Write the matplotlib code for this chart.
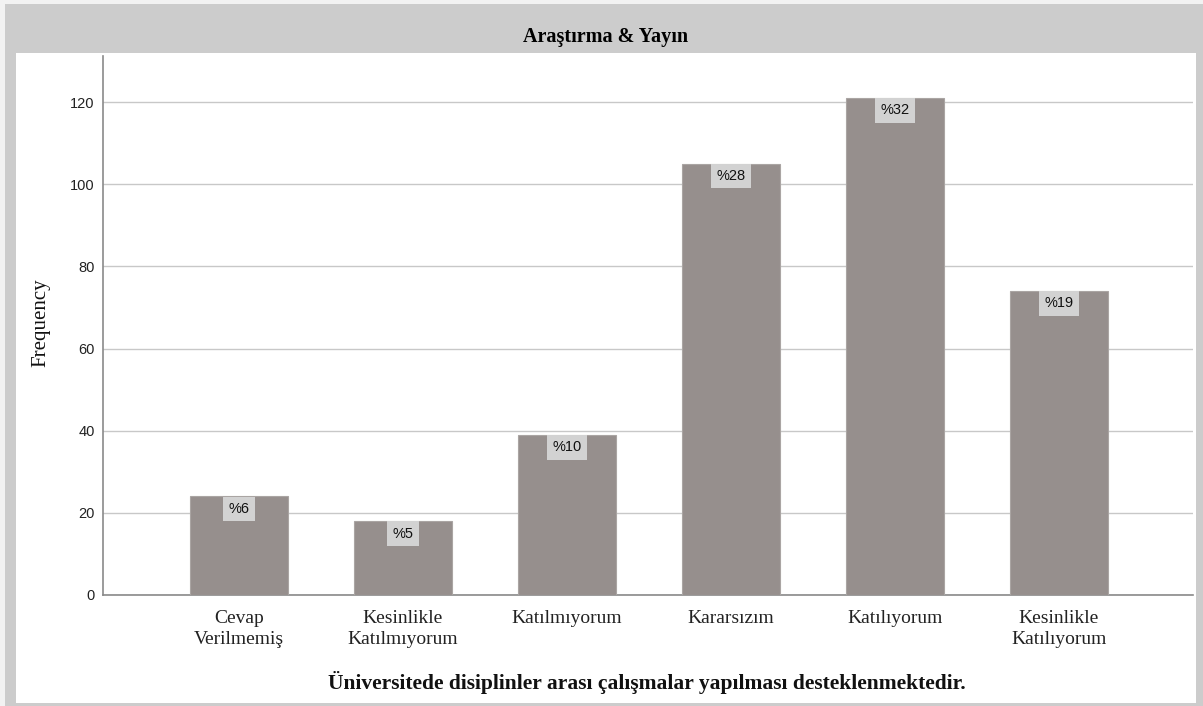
import matplotlib
matplotlib.use("Agg")
import matplotlib.pyplot as plt
from matplotlib.patches import Rectangle

categories = ["Cevap\nVerilmemiş", "Kesinlikle\nKatılmıyorum", "Katılmıyorum",
              "Kararsızım", "Katılıyorum", "Kesinlikle\nKatılıyorum"]
frequencies = [24, 18, 39, 105, 121, 74]
percent_labels = ["%6", "%5", "%10", "%28", "%32", "%19"]
yticks = [0, 20, 40, 60, 80, 100, 120]

W, H = 1203, 706
fig = plt.figure(figsize=(W / 100, H / 100), dpi=100)
fig.patch.set_facecolor("#f2f2f2")

def frect(x0, y0, x1, y1, color):
    fig.patches.append(Rectangle((x0 / W, 1 - y1 / H), (x1 - x0) / W, (y1 - y0) / H,
                                 transform=fig.transFigure, facecolor=color,
                                 edgecolor="none", zorder=-10))

frect(5, 4, 1203, 706, "#cccccc")
frect(16, 53, 1196, 703, "white")

serif = ["Liberation Serif", "DejaVu Serif"]
sans = ["Liberation Sans", "DejaVu Sans"]

fig.text(606 / W, 1 - 37 / H, "Araştırma & Yayın", ha="center", va="center",
         fontsize=14.5, fontweight="bold", family=serif)

left, right, top, bottom = 103, 1193, 56, 595
ax = fig.add_axes([left / W, 1 - bottom / H, (right - left) / W, (bottom - top) / H])
ax.set_zorder(5)
ax.set_facecolor("white")

x = list(range(1, len(categories) + 1))
ax.bar(x, frequencies, width=0.6, color="#968f8d", edgecolor="#aaa5a3",
       linewidth=0.8, zorder=3)

for xi, v, lab in zip(x, frequencies, percent_labels):
    ax.annotate(lab, (xi, v), xytext=(0, -9), textcoords="offset points",
                ha="center", va="center", fontsize=10.5, family=sans, color="#111111",
                bbox=dict(boxstyle="square,pad=0.36", fc="#d2d2d2", ec="none"),
                zorder=4)

ax.set_xlim(0.171, 6.817)
ax.set_ylim(0, 131.2)
ax.set_yticks(yticks)
ax.set_yticklabels([str(t) for t in yticks], family=sans, fontsize=10.5)
ax.set_xticks(x)
ax.set_xticklabels(categories, family=serif, fontsize=14, linespacing=1.3)
ax.tick_params(axis="both", length=0, colors="#222222")
ax.tick_params(axis="y", pad=6)
ax.tick_params(axis="x", pad=11)
ax.grid(axis="y", color="#c8c8c8", linewidth=1.0, zorder=0)
ax.set_axisbelow(True)
for s in ["top", "right"]:
    ax.spines[s].set_visible(False)
for s in ["left", "bottom"]:
    ax.spines[s].set_color("#8a8a8a")
    ax.spines[s].set_linewidth(1.2)

fig.text(41 / W, 1 - 323 / H, "Frequency", rotation=90, ha="center", va="center",
         fontsize=15, family=serif, color="#111111")
fig.text(647 / W, 1 - 683 / H,
         "Üniversitede disiplinler arası çalışmalar yapılması desteklenmektedir.",
         ha="center", va="center", fontsize=15.5, fontweight="bold", family=serif,
         color="#111111")

fig.savefig("out.png", dpi=100, facecolor=fig.get_facecolor())
